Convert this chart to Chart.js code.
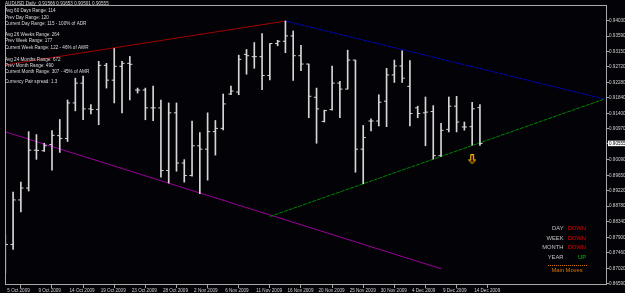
<!DOCTYPE html>
<html>
<head>
<meta charset="utf-8">
<script src="https://cdn.jsdelivr.net/npm/chart.js@4.4.0/dist/chart.umd.min.js"></script>
<style>
body{margin:0;background:#000;}
#wrap{width:625px;height:293px;}
</style>
</head>
<body>
<div id="wrap"><canvas id="fx" width="625" height="293"></canvas></div>
<script>
// AUDUSD daily bars, 5 Oct 2009 .. 15 Dec 2009 (broker has Sunday bars)
const opens=[0.8750,0.87696,0.88956,0.89292,0.90364,0.90348,0.90524,0.90776,0.90692,0.917,
0.9226,0.91532,0.91512,0.92764,0.92344,0.92736,0.9282,0.92064,0.92064,0.9156,
0.9156,0.89788,0.9142,0.9,0.89648,0.90488,0.90392,0.90888,0.9098,0.91952,
0.92008,0.93072,0.93008,0.93008,0.92476,0.9338,0.93444,0.93596,0.93036,0.928,
0.9186,0.91176,0.91512,0.9226,0.92092,0.92912,0.90392,0.91188,0.91188,0.91748,
0.92492,0.92744,0.92168,0.9156,0.9142,0.91456,0.90208,0.90952,0.91608,0.9102,
0.91028,0.91566];
const highs=[0.87976,0.8918,0.8946,0.90888,0.90804,0.9056,0.90916,0.91232,0.91784,0.924,
0.92456,0.91652,0.92876,0.9282,0.9324,0.92876,0.93016,0.9212,0.9212,0.92176,
0.91784,0.917,0.917,0.90096,0.91188,0.9086,0.9142,0.91204,0.91952,0.92176,
0.93052,0.93212,0.93408,0.9366,0.9338,0.93472,0.94016,0.93736,0.93332,0.928,
0.9212,0.91496,0.92744,0.92308,0.93192,0.92912,0.91064,0.91252,0.91932,0.9268,
0.92912,0.93176,0.92896,0.91608,0.91868,0.91624,0.9112,0.91868,0.91888,0.9116,
0.9172,0.91653];
const lows=[0.86884,0.87556,0.8862,0.89208,0.90104,0.90328,0.89796,0.903,0.90608,0.91476,
0.91224,0.91392,0.91084,0.9212,0.917,0.9142,0.91784,0.9198,0.91224,0.91196,
0.896,0.89432,0.89768,0.8946,0.89628,0.89132,0.89516,0.90224,0.90936,0.91932,
0.91932,0.92512,0.9268,0.92072,0.92352,0.93316,0.9312,0.92336,0.92616,0.9128,
0.9056,0.9116,0.91496,0.9128,0.92092,0.8974,0.89412,0.90908,0.91048,0.91028,
0.9228,0.9228,0.91048,0.9128,0.90488,0.90112,0.90188,0.9088,0.9088,0.9093,
0.90504,0.90501];
const closes=[0.87696,0.88956,0.89292,0.90364,0.90356,0.90488,0.90784,0.90692,0.917,0.9226,
0.91532,0.91512,0.92764,0.92344,0.92736,0.9282,0.92792,0.92064,0.9156,0.9156,
0.89788,0.9142,0.9,0.89648,0.90488,0.90392,0.90888,0.9098,0.91672,0.92036,
0.92932,0.93036,0.93008,0.92476,0.9338,0.93444,0.93596,0.93036,0.928,0.91888,
0.91532,0.91484,0.9226,0.92092,0.92912,0.90392,0.9072,0.91188,0.9172,0.92492,
0.92744,0.924,0.914,0.914,0.9144,0.90208,0.90924,0.91608,0.9116,0.9102,
0.91532,0.90555];

const tickIdx=[0,4,8,12,16,20,24,28,32,36,40,44,48,52,56,60];
const tickLabels=["5 Oct 2009","9 Oct 2009","14 Oct 2009","19 Oct 2009","23 Oct 2009","28 Oct 2009",
"2 Nov 2009","6 Nov 2009","11 Nov 2009","16 Nov 2009","20 Nov 2009","25 Nov 2009",
"30 Nov 2009","4 Dec 2009","9 Dec 2009","14 Dec 2009"];
const lastPrice=0.90555;
const yTicks=[0.94030,0.93590,0.93150,0.92720,0.92280,0.91840,0.91400,0.90970,lastPrice,
0.90090,0.89650,0.89220,0.88780,0.88340,0.87900,0.87460,0.87020,0.86590];

// trend lines: [bar index, price]
const redLine=[[0,0.92778],[36,0.94016]];
const blueLine=[[36,0.94016],[77,0.9181]];
const greenLine=[[34,0.88486],[77,0.9181]];
const magentaLine=[[0,0.90882],[56,0.8701]];
const arrowMark=[[60,0.90104]];

const infoLines=[
["AUDUSD,Daily  0.91566 0.91653 0.90501 0.90555",4],
["Avg 60 Days Range: 114",10.7],
["Prev Day Range: 120",17.3],
["Current Day Range: 115 - 100% of ADR",24],
["Avg 26 Weeks Range: 264",34.3],
["Prev Week Range: 177",40.7],
["Current Week Range: 122 - 46% of AWR",47.3],
["Avg 24 Months Range: 672",59.3],
["Prev Month Range: 490",65.3],
["Current Month Range: 307 - 45% of AMR",71.3],
["Currency Pair spread: 1.3",81.7]
];
const moveNames=["DAY","WEEK","MONTH","YEAR"];
const moveDirs=["DOWN","DOWN","DOWN","UP"];

const pts=a=>a.map(p=>({x:p[0],y:p[1]}));

// hollow down arrow object
const arrow=document.createElement("canvas");
arrow.width=8;arrow.height=10;
const g=arrow.getContext("2d");
g.beginPath();
g.moveTo(2.5,0.5);g.lineTo(5.5,0.5);g.lineTo(5.5,5.5);g.lineTo(7.5,5.5);
g.lineTo(4,9.5);g.lineTo(0.5,5.5);g.lineTo(2.5,5.5);g.closePath();
g.fillStyle="#5a1000";g.fill();
g.strokeStyle="#e8c400";g.lineWidth=1;g.stroke();

const overlay={
id:"overlay",
beforeDraw(chart){
const c=chart.ctx;
c.save();c.fillStyle="#030206";c.fillRect(0,0,chart.width,chart.height);c.restore();
},
afterDraw(chart){
const c=chart.ctx,a=chart.chartArea;
c.save();
c.strokeStyle="#a8a8a8";c.lineWidth=1;
c.strokeRect(a.left+0.5,a.top+0.5,a.right-a.left-1,a.bottom-a.top-1);

c.font="4.6px 'Liberation Sans'";
c.textBaseline="middle";c.textAlign="left";
c.fillStyle="#dcdcdc";
infoLines.forEach(l=>c.fillText(l[0],5,l[1]));

c.font="5.8px 'Liberation Sans'";
moveNames.forEach((n,i)=>{
const y=228.3+i*9.7;
c.textAlign="right";
c.fillStyle="#c0c0c0";c.fillText(n,563.5,y);
c.fillStyle=moveDirs[i]==="UP"?"#00c800":"#e00000";c.fillText(moveDirs[i],586,y);
});
c.strokeStyle="#d07000";c.setLineDash([1,1]);
c.beginPath();c.moveTo(548,265.5);c.lineTo(587,265.5);c.stroke();
c.setLineDash([]);
c.fillStyle="#d87800";c.textAlign="center";
c.fillText("Main Moves",567,270.5);
c.restore();
}
};

const lineSet=(data,color,dash)=>({type:"line",data:pts(data),borderColor:color,borderWidth:1,
borderDash:dash,pointRadius:0,fill:false,tension:0,order:3});

const barColor="#d6d6d6";

new Chart(document.getElementById("fx"),{
type:"bar",
data:{
datasets:[
{data:highs.map((h,i)=>({x:i,y:[lows[i],h]})),backgroundColor:barColor,
borderWidth:0,barThickness:1,order:1},
{type:"scatter",data:opens.map((o,i)=>({x:i-0.166,y:o})),pointStyle:"line",
pointRadius:1.3,pointBorderWidth:1,pointBorderColor:barColor,order:1},
{type:"scatter",data:closes.map((c,i)=>({x:i+0.166,y:c})),pointStyle:"line",
pointRadius:1.3,pointBorderWidth:1,pointBorderColor:barColor,order:1},
lineSet(redLine,"#a00000",[]),
lineSet(blueLine,"#0000c0",[4,1]),
lineSet(greenLine,"#008400",[4,1]),
lineSet(magentaLine,"#9a009a",[]),
{type:"scatter",data:pts(arrowMark),pointStyle:arrow,pointRadius:4,order:0}
]
},
options:{
responsive:false,
animation:false,
events:[],
layout:{padding:{left:2,top:1,right:0,bottom:0}},
plugins:{legend:{display:false},tooltip:{enabled:false}},
scales:{
x:{
type:"linear",offset:false,min:-0.04,max:77.33,
border:{display:false},
grid:{drawOnChartArea:false,tickLength:3,color:"#a8a8a8"},
afterBuildTicks:s=>{s.ticks=tickIdx.map(v=>({value:v}));},
afterFit:s=>{s.height=8;},
ticks:{autoSkip:false,maxRotation:0,align:"start",labelOffset:2,padding:0,
color:"#d0d0d0",font:{family:"'Liberation Sans'",size:4.6},
callback:v=>tickLabels[tickIdx.indexOf(v)]}
},
y:{
position:"right",min:0.8655,max:0.9447,
border:{display:false},
grid:{drawOnChartArea:false,tickLength:2,color:"#a8a8a8"},
afterBuildTicks:s=>{s.ticks=yTicks.map(v=>({value:v}));},
afterFit:s=>{s.width=18;},
ticks:{padding:0,font:{family:"'Liberation Sans'",size:4.6},
color:ctx=>ctx.tick&&ctx.tick.value===lastPrice?"#000":"#d0d0d0",
showLabelBackdrop:ctx=>!!(ctx.tick&&ctx.tick.value===lastPrice),
backdropColor:"#ffffff",backdropPadding:{left:1,right:4,top:0,bottom:0},
callback:v=>v.toFixed(5)}
}
}
},
plugins:[overlay]
});
</script>
</body>
</html>
